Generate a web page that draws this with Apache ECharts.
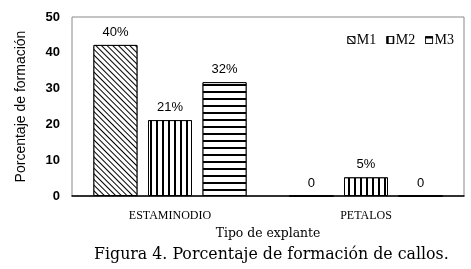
<!DOCTYPE html>
<html><head><meta charset="utf-8">
<script src="https://cdn.jsdelivr.net/npm/echarts@6/dist/echarts.min.js"></script>
<style>html,body{margin:0;padding:0;background:#fff}#c{width:471px;height:269px}</style>
</head><body><div id="c"></div>
<script>
const categories = ['ESTAMINODIO', 'PETALOS'];
const seriesNames = ['M1', 'M2', 'M3'];
const m1 = [42.2, 0];
const m2 = [21.2, 5.2];
const m3 = [31.8, 0];
const m1Labels = ['40%', '0'];
const m2Labels = ['21%', '5%'];
const m3Labels = ['32%', '0'];
const yTicks = [0, 10, 20, 30, 40, 50];

const serif = 'DejaVu Serif';
const serif2 = 'Liberation Serif';
const sans = 'Liberation Sans';

const decals = [
  {symbol: 'rect', symbolSize: 1, dashArrayX: [1, 0], dashArrayY: [1, 2.6], rotation: Math.PI / 4, color: '#000', backgroundColor: '#fff'},
  {symbol: 'rect', symbolSize: 1, dashArrayX: [2, 3.5], dashArrayY: [1, 0], rotation: 0, color: '#000', backgroundColor: '#fff'},
  {symbol: 'rect', symbolSize: 1, dashArrayX: [1, 0], dashArrayY: [1.3, 4.7], rotation: 0, color: '#000', backgroundColor: '#fff'}
];
const datas = [m1, m2, m3];
const labs = [m1Labels, m2Labels, m3Labels];

const chart = echarts.init(document.getElementById('c'), null, {renderer: 'canvas'});
chart.setOption({
  animation: false,
  backgroundColor: '#fff',
  title: {
    text: 'Figura 4. Porcentaje de formación de callos.',
    left: 89, top: 242,
    textStyle: {fontFamily: serif, fontSize: 15.8, fontWeight: 'normal', color: '#000'}
  },
  legend: {
    data: seriesNames,
    right: 12, top: 28,
    icon: 'rect',
    itemWidth: 7, itemHeight: 7, itemGap: 10,
    itemStyle: {borderWidth: 0.8, borderColor: '#000'},
    textStyle: {fontFamily: serif2, fontSize: 14, color: '#000', padding: [0, 0, 0, -3]}
  },
  grid: {left: 72, top: 17, right: 7, bottom: 73, show: true, borderColor: '#888', borderWidth: 1},
  xAxis: {
    type: 'category', data: categories,
    name: 'Tipo de explante', nameLocation: 'middle', nameGap: 32,
    nameTextStyle: {fontFamily: serif, fontSize: 12.4, color: '#000'},
    axisLine: {lineStyle: {color: '#000', width: 1.5}},
    axisTick: {show: false},
    axisLabel: {fontFamily: serif2, fontSize: 12, color: '#000', margin: 14}
  },
  yAxis: {
    type: 'value', min: 0, max: 50, interval: 10,
    name: 'Porcentaje de formación', nameLocation: 'middle', nameGap: 44,
    nameTextStyle: {fontFamily: sans, fontSize: 14, color: '#000'},
    splitLine: {show: false},
    axisLine: {show: false},
    axisTick: {show: false},
    axisLabel: {fontFamily: sans, fontSize: 13, fontWeight: 'bold', color: '#000', margin: 12,
      formatter: v => yTicks.includes(v) ? String(v) : ''}
  },
  series: seriesNames.map((n, i) => ({
    name: n, type: 'bar', data: datas[i],
    barWidth: 44, barGap: '24%',
    itemStyle: {color: '#fff', borderColor: '#000', borderWidth: 1, decal: decals[i]},
    label: {show: true, position: 'top', distance: 6, fontFamily: sans, fontSize: 13, color: '#000',
      formatter: p => labs[i][p.dataIndex]}
  }))
});
</script></body></html>
